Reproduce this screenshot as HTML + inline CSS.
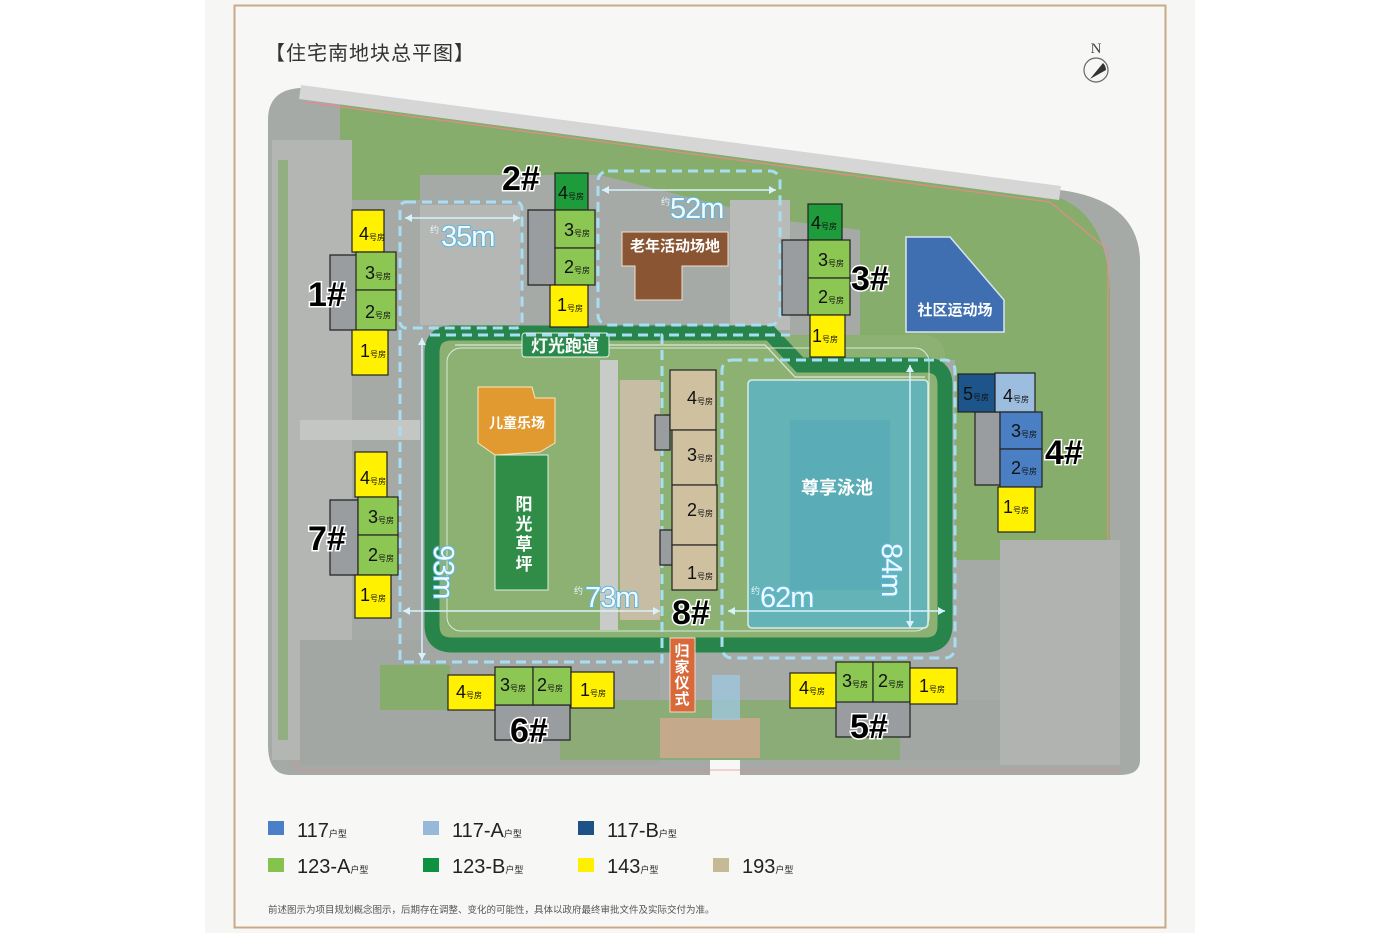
<!DOCTYPE html>
<html><head><meta charset="utf-8">
<style>
html,body{margin:0;padding:0;background:#fff;}
body{width:1400px;height:933px;overflow:hidden;font-family:"Liberation Sans","Noto Sans CJK SC",sans-serif;}
</style></head>
<body>
<svg width="1400" height="933" viewBox="0 0 1400 933" xmlns="http://www.w3.org/2000/svg" font-family="Liberation Sans, Noto Sans CJK SC, sans-serif">
<rect x="0" y="0" width="1400" height="933" fill="#ffffff"/>
<rect x="205" y="0" width="990" height="933" fill="#f6f6f5"/>
<rect x="234.5" y="5.5" width="931" height="922" fill="#f7f7f6" stroke="#c9aa86" stroke-width="2"/>
<text x="265" y="60" font-size="20" fill="#333" font-family="Noto Sans CJK SC, sans-serif" letter-spacing="1">【住宅南地块总平图】</text>
<text x="1096" y="53" font-size="15" fill="#444" text-anchor="middle" font-family="Liberation Serif, serif">N</text>
<circle cx="1096" cy="70" r="12" fill="none" stroke="#666" stroke-width="1.2"/>
<path d="M1090 79 L1103 63 A10 10 0 0 1 1106 70 Z" fill="#333"/>

<path d="M300 88 L1060 190 Q1138 200 1140 260 L1140 760 Q1140 775 1120 775 L740 775 L740 760 L710 760 L710 775 L290 775 Q268 775 268 745 L268 120 Q268 90 300 88 Z" fill="#a5aaa6"/>
<path d="M340 100 L1050 195 Q1110 210 1110 300 L1110 760 L1000 760 L1000 560 L955 560 L955 360 L860 360 L860 230 L780 220 L600 175 L420 175 L420 200 L340 200 Z" fill="#86ad6c"/>
<path d="M300 92 L1060 193" stroke="#d6d6d6" stroke-width="14" fill="none"/>
<path d="M305 102 L1050 202 L1108 250 L1108 540" stroke="#e58a8a" stroke-width="1.2" fill="none"/>
<path d="M278 150 L278 740 L300 770 L1120 770" stroke="#e58a8a" stroke-width="1" fill="none" opacity="0.7"/>
<rect x="272" y="140" width="80" height="620" fill="#b3b6b3"/>
<rect x="278" y="160" width="10" height="580" fill="#86ad6c" opacity="0.7"/>
<rect x="420" y="205" width="100" height="120" fill="#b4b7b4"/>
<rect x="730" y="200" width="60" height="130" fill="#b8bbb8"/>
<rect x="1000" y="540" width="120" height="225" fill="#b0b3b0"/>
<rect x="300" y="640" width="360" height="125" fill="#a3a7a4"/>
<rect x="380" y="665" width="70" height="45" fill="#86ad6c"/>
<rect x="560" y="700" width="440" height="60" fill="#86ad6c" opacity="0.8"/>
<rect x="900" y="700" width="100" height="60" fill="#a3a7a4"/>
<rect x="300" y="420" width="120" height="20" fill="#c3c6c3"/>
<rect x="432" y="335" width="513" height="310" rx="20" fill="#8cb173"/>
<rect x="620" y="380" width="40" height="240" fill="#c7bda5"/>
<rect x="600" y="360" width="18" height="270" fill="#c8cbc8"/>
<path d="M452 333 L770 333 L800 365 L925 365 Q945 365 945 385 L945 625 Q945 645 925 645 L452 645 Q432 645 432 625 L432 353 Q432 333 452 333 Z" fill="none" stroke="#27844a" stroke-width="15"/>
<path d="M455 345 L765 345 L795 377 L925 377" fill="none" stroke="#d9eadb" stroke-width="1.2"/>
<rect x="447" y="348" width="482" height="283" rx="14" fill="none" stroke="#d9eadb" stroke-width="1"/>
<rect x="748" y="380" width="180" height="248" rx="4" fill="#5eb5c4" opacity="0.85" stroke="#e8f6f8" stroke-width="1.5"/>
<rect x="790" y="420" width="100" height="170" fill="#4fa6b5" opacity="0.5"/>
<text x="837" y="494" font-size="18" fill="#fff" text-anchor="middle" font-weight="bold">尊享泳池</text>
<path d="M622 232 L728 232 L728 266 L682 266 L682 300 L635 300 L635 266 L622 266 Z" fill="#8a5532" stroke="#f0e0d0" stroke-width="1"/>
<text x="675" y="251" font-size="15" fill="#fff" text-anchor="middle" font-weight="bold">老年活动场地</text>
<path d="M906 237 L950 237 L1004 300 L1004 332 L906 332 Z" fill="#3f6fb1" stroke="#d8e4f2" stroke-width="1.5"/>
<text x="955" y="315" font-size="15" fill="#fff" text-anchor="middle" font-weight="bold">社区运动场</text>
<path d="M495 455 L548 455 L548 590 L495 590 Z" fill="#2f8d48" stroke="#e0eedf" stroke-width="1"/>
<path d="M478 387 L532 387 L535 398 L555 398 L555 443 L540 452 L495 455 L478 443 Z" fill="#e09a30" stroke="#fbe7c0" stroke-width="1"/>
<text x="517" y="428" font-size="14" fill="#fff" text-anchor="middle" font-weight="bold">儿童乐场</text>
<g font-size="17" fill="#fff" text-anchor="middle" font-weight="bold">
<text x="524" y="510">阳</text><text x="524" y="530">光</text><text x="524" y="550">草</text><text x="524" y="570">坪</text></g>
<rect x="522" y="333" width="87" height="24" rx="3" fill="#2a8a4c" stroke="#e6f1e6" stroke-width="1"/>
<text x="565" y="352" font-size="17" fill="#fff" text-anchor="middle" font-weight="bold">灯光跑道</text>
<rect x="670" y="638" width="25" height="74" fill="#d7693a" stroke="#f6d6c6" stroke-width="1"/>
<g font-size="15" fill="#fff" text-anchor="middle" font-weight="bold">
<text x="682" y="656">归</text><text x="682" y="672">家</text><text x="682" y="688">仪</text><text x="682" y="704">式</text></g>
<rect x="660" y="718" width="100" height="40" fill="#c4a98a"/>
<path d="M712 675 L740 675 L740 720 L712 720 Z" fill="#9fc7dc" opacity="0.8"/>

<g fill="none" stroke="#a8def3" stroke-width="3" stroke-dasharray="10 6">
<rect x="400" y="202" width="122" height="126" rx="6"/>
<rect x="598" y="171" width="182" height="154" rx="10"/>
<rect x="722" y="360" width="233" height="298" rx="10"/>
<path d="M400 330 L400 662 L662 662 L662 335 L790 335"/>
<path d="M430 335 L660 335"/>
</g>
<g stroke="#d8f2fb" stroke-width="1.5" fill="none">
<path d="M405 218 L520 218"/><path d="M602 190 L776 190"/>
<path d="M422 338 L422 660"/><path d="M403 611 L660 611"/><path d="M728 611 L945 611"/>
<path d="M910 365 L910 628"/>
</g>
<g fill="#d8f2fb">
<path d="M405 218 l7 -4 v8z"/><path d="M520 218 l-7 -4 v8z"/>
<path d="M602 190 l7 -4 v8z"/><path d="M776 190 l-7 -4 v8z"/>
<path d="M403 611 l7 -4 v8z"/><path d="M660 611 l-7 -4 v8z"/>
<path d="M728 611 l7 -4 v8z"/><path d="M945 611 l-7 -4 v8z"/>
<path d="M910 365 l-4 7 h8z"/><path d="M910 628 l-4 -7 h8z"/>
<path d="M422 338 l-4 7 h8z"/><path d="M422 660 l-4 -7 h8z"/>
</g>
<g fill="#f0fbff" font-size="29" stroke="#5fb6da" stroke-width="2" paint-order="stroke" letter-spacing="-1">
<text x="441" y="246">35m</text>
<text x="670" y="218">52m</text>
<text x="585" y="607">73m</text>
<text x="760" y="607">62m</text>
<text transform="translate(434,545) rotate(90)">93m</text>
<text transform="translate(882,543) rotate(90)">84m</text>
</g>
<g fill="#e6f7fd" font-size="9"><text x="430" y="233">约</text><text x="661" y="205">约</text><text x="574" y="594">约</text><text x="751" y="594">约</text></g>

<g fill="#9a9d9f" stroke="#222" stroke-width="1.2">
<path d="M330 255 L358 255 L358 330 L330 330 Z"/>
<path d="M330 500 L358 500 L358 575 L330 575 Z"/>
<path d="M528 210 L555 210 L555 285 L528 285 Z"/>
<path d="M782 240 L810 240 L810 315 L782 315 Z"/>
<path d="M975 412 L1000 412 L1000 485 L975 485 Z"/>
<path d="M655 415 L670 415 L670 450 L655 450 Z"/><path d="M660 530 L672 530 L672 565 L660 565 Z"/>
<path d="M495 705 L570 705 L570 740 L495 740 Z"/>
<path d="M836 700 L910 700 L910 737 L836 737 Z"/>
</g>

<g stroke="#222" stroke-width="1.2">
<rect x="352" y="210" width="32" height="42" fill="#fff100"/>
<rect x="356" y="252" width="40" height="38" fill="#8cc653"/>
<rect x="356" y="290" width="40" height="40" fill="#8cc653"/>
<rect x="352" y="330" width="36" height="45" fill="#fff100"/>
<rect x="355" y="452" width="32" height="45" fill="#fff100"/>
<rect x="358" y="497" width="40" height="38" fill="#8cc653"/>
<rect x="358" y="535" width="40" height="40" fill="#8cc653"/>
<rect x="355" y="575" width="36" height="43" fill="#fff100"/>
<rect x="555" y="173" width="33" height="37" fill="#1e9b3a"/>
<rect x="555" y="210" width="40" height="38" fill="#8cc653"/>
<rect x="555" y="248" width="40" height="37" fill="#8cc653"/>
<rect x="550" y="285" width="38" height="42" fill="#fff100"/>
<rect x="808" y="204" width="34" height="36" fill="#1e9b3a"/>
<rect x="808" y="240" width="42" height="38" fill="#8cc653"/>
<rect x="808" y="278" width="42" height="37" fill="#8cc653"/>
<rect x="810" y="315" width="35" height="42" fill="#fff100"/>
<rect x="958" y="374" width="37" height="38" fill="#1d548a"/>
<rect x="995" y="373" width="40" height="39" fill="#9dbddf"/>
<rect x="1000" y="412" width="42" height="37" fill="#4a7fc4"/>
<rect x="1000" y="449" width="42" height="38" fill="#4a7fc4"/>
<rect x="998" y="487" width="37" height="45" fill="#fff100"/>
<rect x="670" y="370" width="46" height="60" fill="#cfc19f"/>
<rect x="672" y="430" width="44" height="55" fill="#cfc19f"/>
<rect x="672" y="485" width="45" height="60" fill="#cfc19f"/>
<rect x="672" y="545" width="45" height="45" fill="#cfc19f"/>
<rect x="448" y="675" width="47" height="35" fill="#fff100"/>
<rect x="495" y="667" width="38" height="38" fill="#8cc653"/>
<rect x="533" y="667" width="38" height="38" fill="#8cc653"/>
<rect x="571" y="672" width="43" height="36" fill="#fff100"/>
<rect x="790" y="673" width="46" height="35" fill="#fff100"/>
<rect x="836" y="662" width="37" height="40" fill="#8cc653"/>
<rect x="873" y="662" width="37" height="40" fill="#8cc653"/>
<rect x="910" y="668" width="47" height="36" fill="#fff100"/>
</g>
<g fill="#111" font-size="18">
<text x="359" y="240">4<tspan font-size="8">号房</tspan></text>
<text x="365" y="279">3<tspan font-size="8">号房</tspan></text>
<text x="365" y="318">2<tspan font-size="8">号房</tspan></text>
<text x="360" y="357">1<tspan font-size="8">号房</tspan></text>
<text x="360" y="484">4<tspan font-size="8">号房</tspan></text>
<text x="368" y="523">3<tspan font-size="8">号房</tspan></text>
<text x="368" y="561">2<tspan font-size="8">号房</tspan></text>
<text x="360" y="601">1<tspan font-size="8">号房</tspan></text>
<text x="558" y="199">4<tspan font-size="8">号房</tspan></text>
<text x="564" y="236">3<tspan font-size="8">号房</tspan></text>
<text x="564" y="273">2<tspan font-size="8">号房</tspan></text>
<text x="557" y="311">1<tspan font-size="8">号房</tspan></text>
<text x="811" y="229">4<tspan font-size="8">号房</tspan></text>
<text x="818" y="266">3<tspan font-size="8">号房</tspan></text>
<text x="818" y="303">2<tspan font-size="8">号房</tspan></text>
<text x="812" y="342">1<tspan font-size="8">号房</tspan></text>
<text x="963" y="400">5<tspan font-size="8">号房</tspan></text>
<text x="1003" y="402">4<tspan font-size="8">号房</tspan></text>
<text x="1011" y="437">3<tspan font-size="8">号房</tspan></text>
<text x="1011" y="474">2<tspan font-size="8">号房</tspan></text>
<text x="1003" y="513">1<tspan font-size="8">号房</tspan></text>
<text x="687" y="404">4<tspan font-size="8">号房</tspan></text>
<text x="687" y="461">3<tspan font-size="8">号房</tspan></text>
<text x="687" y="516">2<tspan font-size="8">号房</tspan></text>
<text x="687" y="579">1<tspan font-size="8">号房</tspan></text>
<text x="456" y="698">4<tspan font-size="8">号房</tspan></text>
<text x="500" y="691">3<tspan font-size="8">号房</tspan></text>
<text x="537" y="691">2<tspan font-size="8">号房</tspan></text>
<text x="580" y="696">1<tspan font-size="8">号房</tspan></text>
<text x="799" y="694">4<tspan font-size="8">号房</tspan></text>
<text x="842" y="687">3<tspan font-size="8">号房</tspan></text>
<text x="878" y="687">2<tspan font-size="8">号房</tspan></text>
<text x="919" y="692">1<tspan font-size="8">号房</tspan></text>
</g>
<g fill="#000" font-size="34" font-weight="bold" stroke="#fff" stroke-width="3" paint-order="stroke">
<text x="308" y="306">1#</text>
<text x="308" y="550">7#</text>
<text x="502" y="190">2#</text>
<text x="851" y="290">3#</text>
<text x="1045" y="464">4#</text>
<text x="672" y="624">8#</text>
<text x="510" y="742">6#</text>
<text x="850" y="738">5#</text>
</g>

<g font-size="20" fill="#222">
<rect x="268" y="821" width="16" height="14" fill="#4a80c8"/><text x="297" y="837">117<tspan font-size="9">户型</tspan></text>
<rect x="423" y="821" width="16" height="14" fill="#98b8da"/><text x="452" y="837">117-A<tspan font-size="9">户型</tspan></text>
<rect x="578" y="821" width="16" height="14" fill="#1c5288"/><text x="607" y="837">117-B<tspan font-size="9">户型</tspan></text>
<rect x="268" y="858" width="16" height="14" fill="#86c34e"/><text x="297" y="873">123-A<tspan font-size="9">户型</tspan></text>
<rect x="423" y="858" width="16" height="14" fill="#0e9140"/><text x="452" y="873">123-B<tspan font-size="9">户型</tspan></text>
<rect x="578" y="858" width="16" height="14" fill="#fff000"/><text x="607" y="873">143<tspan font-size="9">户型</tspan></text>
<rect x="713" y="858" width="16" height="14" fill="#c6b995"/><text x="742" y="873">193<tspan font-size="9">户型</tspan></text>
</g>
<text x="268" y="913" font-size="9.5" fill="#555">前述图示为项目规划概念图示，后期存在调整、变化的可能性，具体以政府最终审批文件及实际交付为准。</text>
</svg>
</body></html>
